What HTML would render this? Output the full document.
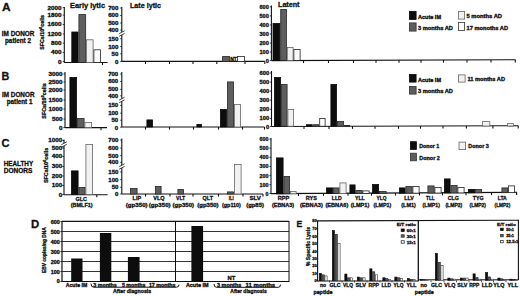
<!DOCTYPE html>
<html><head><meta charset="utf-8"><style>
html,body{margin:0;padding:0;background:#fff;}
svg{display:block;}
svg text{font-family:"Liberation Sans", sans-serif;stroke:#111;stroke-width:0.3px;}
</style></head><body>
<svg width="520" height="296" viewBox="0 0 520 296">
<rect width="520" height="296" fill="#fff"/>
<text x="2" y="10.6" font-size="11" font-weight="bold" fill="#111" textLength="8.6" lengthAdjust="spacingAndGlyphs">A</text>
<text x="1.8" y="36" font-size="6.5" font-weight="bold" fill="#111" textLength="32.6" lengthAdjust="spacingAndGlyphs">IM DONOR</text>
<text x="5" y="42.5" font-size="6.3" font-weight="bold" fill="#111" textLength="26" lengthAdjust="spacingAndGlyphs">patient 2</text>
<text x="44" y="49.7" font-size="4.8" font-weight="bold" fill="#111" textLength="34.7" lengthAdjust="spacingAndGlyphs" transform="rotate(-90 44 49.7)">SFCs/10<tspan font-size="3.6" dy="-2">6</tspan><tspan dy="2">cells</tspan></text>
<line x1="64.3" y1="7" x2="64.3" y2="62.5" stroke="#111" stroke-width="1.1"/>
<line x1="62.699999999999996" y1="7.6" x2="64.3" y2="7.6" stroke="#111" stroke-width="0.8"/>
<line x1="62.699999999999996" y1="15.1" x2="64.3" y2="15.1" stroke="#111" stroke-width="0.8"/>
<line x1="62.699999999999996" y1="24.5" x2="64.3" y2="24.5" stroke="#111" stroke-width="0.8"/>
<line x1="62.699999999999996" y1="33.9" x2="64.3" y2="33.9" stroke="#111" stroke-width="0.8"/>
<line x1="62.699999999999996" y1="43.2" x2="64.3" y2="43.2" stroke="#111" stroke-width="0.8"/>
<line x1="62.699999999999996" y1="52.5" x2="64.3" y2="52.5" stroke="#111" stroke-width="0.8"/>
<line x1="62.699999999999996" y1="61.6" x2="64.3" y2="61.6" stroke="#111" stroke-width="0.8"/>
<text x="61.6" y="9.51" font-size="5.3" font-weight="bold" fill="#111" text-anchor="end" textLength="14.0" lengthAdjust="spacingAndGlyphs">2000</text>
<text x="61.6" y="17.01" font-size="5.3" font-weight="bold" fill="#111" text-anchor="end" textLength="14.0" lengthAdjust="spacingAndGlyphs">1800</text>
<text x="61.6" y="26.41" font-size="5.3" font-weight="bold" fill="#111" text-anchor="end" textLength="14.0" lengthAdjust="spacingAndGlyphs">1600</text>
<text x="61.6" y="35.81" font-size="5.3" font-weight="bold" fill="#111" text-anchor="end" textLength="14.0" lengthAdjust="spacingAndGlyphs">1200</text>
<text x="61.6" y="45.11" font-size="5.3" font-weight="bold" fill="#111" text-anchor="end" textLength="10.5" lengthAdjust="spacingAndGlyphs">800</text>
<text x="61.6" y="54.41" font-size="5.3" font-weight="bold" fill="#111" text-anchor="end" textLength="10.5" lengthAdjust="spacingAndGlyphs">400</text>
<text x="61.6" y="63.51" font-size="5.3" font-weight="bold" fill="#111" text-anchor="end" textLength="3.5" lengthAdjust="spacingAndGlyphs">0</text>
<line x1="64" y1="62.5" x2="107.6" y2="62.5" stroke="#111" stroke-width="1.1"/>
<line x1="102.5" y1="62.5" x2="102.5" y2="65.1" stroke="#111" stroke-width="1.1"/>
<rect x="71.80000000000001" y="32.0" width="6.2999999999999945" height="30.5" fill="#0d0d0d" stroke="#0d0d0d" stroke-width="0.8"/>
<rect x="78.9" y="14.6" width="6.7999999999999945" height="47.9" fill="#5e5e5e" stroke="#2a2a2a" stroke-width="0.8"/>
<rect x="86.5" y="39.8" width="6.600000000000006" height="22.700000000000003" fill="#f1f1f1" stroke="#666" stroke-width="0.8"/>
<rect x="93.9" y="49.8" width="6.499999999999997" height="12.700000000000001" fill="#ffffff" stroke="#222" stroke-width="0.8"/>
<text x="70" y="8.4" font-size="7.4" font-weight="bold" fill="#111" textLength="35" lengthAdjust="spacingAndGlyphs">Early lytic</text>
<line x1="121.8" y1="7" x2="121.8" y2="32" stroke="#111" stroke-width="1.1"/>
<line x1="121.8" y1="35" x2="121.8" y2="61.5" stroke="#111" stroke-width="1.1"/>
<line x1="119.2" y1="33.6" x2="124.6" y2="30.8" stroke="#111" stroke-width="0.8"/>
<line x1="119.2" y1="36.2" x2="124.6" y2="33.4" stroke="#111" stroke-width="0.8"/>
<line x1="120.2" y1="8" x2="121.8" y2="8" stroke="#111" stroke-width="0.8"/>
<line x1="120.2" y1="15.5" x2="121.8" y2="15.5" stroke="#111" stroke-width="0.8"/>
<line x1="120.2" y1="23" x2="121.8" y2="23" stroke="#111" stroke-width="0.8"/>
<line x1="120.2" y1="30" x2="121.8" y2="30" stroke="#111" stroke-width="0.8"/>
<line x1="120.2" y1="38.7" x2="121.8" y2="38.7" stroke="#111" stroke-width="0.8"/>
<line x1="120.2" y1="46.5" x2="121.8" y2="46.5" stroke="#111" stroke-width="0.8"/>
<line x1="120.2" y1="53.8" x2="121.8" y2="53.8" stroke="#111" stroke-width="0.8"/>
<line x1="120.2" y1="61.5" x2="121.8" y2="61.5" stroke="#111" stroke-width="0.8"/>
<text x="118.4" y="9.91" font-size="5.3" font-weight="bold" fill="#111" text-anchor="end" textLength="10.2" lengthAdjust="spacingAndGlyphs">700</text>
<text x="118.4" y="17.41" font-size="5.3" font-weight="bold" fill="#111" text-anchor="end" textLength="10.2" lengthAdjust="spacingAndGlyphs">600</text>
<text x="118.4" y="24.91" font-size="5.3" font-weight="bold" fill="#111" text-anchor="end" textLength="10.2" lengthAdjust="spacingAndGlyphs">500</text>
<text x="118.4" y="31.91" font-size="5.3" font-weight="bold" fill="#111" text-anchor="end" textLength="10.2" lengthAdjust="spacingAndGlyphs">400</text>
<text x="118.4" y="40.61" font-size="5.3" font-weight="bold" fill="#111" text-anchor="end" textLength="10.2" lengthAdjust="spacingAndGlyphs">150</text>
<text x="118.4" y="48.61" font-size="5.3" font-weight="bold" fill="#111" text-anchor="end" textLength="10.2" lengthAdjust="spacingAndGlyphs">100</text>
<text x="118.4" y="55.81" font-size="5.3" font-weight="bold" fill="#111" text-anchor="end" textLength="6.8" lengthAdjust="spacingAndGlyphs">50</text>
<text x="118.4" y="63.81" font-size="5.3" font-weight="bold" fill="#111" text-anchor="end" textLength="3.4" lengthAdjust="spacingAndGlyphs">0</text>
<line x1="121.8" y1="61.4" x2="264.8" y2="61.4" stroke="#111" stroke-width="1.1"/>
<line x1="145.5" y1="61.4" x2="145.5" y2="64.0" stroke="#111" stroke-width="1.1"/>
<line x1="169.5" y1="61.4" x2="169.5" y2="64.0" stroke="#111" stroke-width="1.1"/>
<line x1="193" y1="61.4" x2="193" y2="64.0" stroke="#111" stroke-width="1.1"/>
<line x1="216.8" y1="61.4" x2="216.8" y2="64.0" stroke="#111" stroke-width="1.1"/>
<line x1="245" y1="61.4" x2="245" y2="64.0" stroke="#111" stroke-width="1.1"/>
<line x1="264.8" y1="61.4" x2="264.8" y2="64.0" stroke="#111" stroke-width="1.1"/>
<rect x="222.6" y="56.4" width="6.800000000000023" height="4.999999999999998" fill="#5e5e5e" stroke="#2a2a2a" stroke-width="0.8"/>
<text x="230.3" y="61" font-size="4.6" font-weight="bold" fill="#111" textLength="6.6" lengthAdjust="spacingAndGlyphs">NT</text>
<rect x="237.4" y="56.4" width="7.2" height="4.999999999999998" fill="#ffffff" stroke="#222" stroke-width="0.8"/>
<text x="130" y="7.5" font-size="7.2" font-weight="bold" fill="#111" textLength="31" lengthAdjust="spacingAndGlyphs">Late lytic</text>
<line x1="271.4" y1="5.5" x2="271.4" y2="60.5" stroke="#111" stroke-width="1.1"/>
<line x1="269.79999999999995" y1="6.8" x2="271.4" y2="6.8" stroke="#111" stroke-width="0.8"/>
<line x1="269.79999999999995" y1="15.9" x2="271.4" y2="15.9" stroke="#111" stroke-width="0.8"/>
<line x1="269.79999999999995" y1="25" x2="271.4" y2="25" stroke="#111" stroke-width="0.8"/>
<line x1="269.79999999999995" y1="34" x2="271.4" y2="34" stroke="#111" stroke-width="0.8"/>
<line x1="269.79999999999995" y1="43" x2="271.4" y2="43" stroke="#111" stroke-width="0.8"/>
<line x1="269.79999999999995" y1="52" x2="271.4" y2="52" stroke="#111" stroke-width="0.8"/>
<line x1="269.79999999999995" y1="60.5" x2="271.4" y2="60.5" stroke="#111" stroke-width="0.8"/>
<text x="268.8" y="8.71" font-size="5.3" font-weight="bold" fill="#111" text-anchor="end" textLength="9.3" lengthAdjust="spacingAndGlyphs">600</text>
<text x="268.8" y="17.81" font-size="5.3" font-weight="bold" fill="#111" text-anchor="end" textLength="9.3" lengthAdjust="spacingAndGlyphs">500</text>
<text x="268.8" y="26.91" font-size="5.3" font-weight="bold" fill="#111" text-anchor="end" textLength="9.3" lengthAdjust="spacingAndGlyphs">400</text>
<text x="268.8" y="35.91" font-size="5.3" font-weight="bold" fill="#111" text-anchor="end" textLength="9.3" lengthAdjust="spacingAndGlyphs">300</text>
<text x="268.8" y="44.91" font-size="5.3" font-weight="bold" fill="#111" text-anchor="end" textLength="9.3" lengthAdjust="spacingAndGlyphs">200</text>
<text x="268.8" y="53.91" font-size="5.3" font-weight="bold" fill="#111" text-anchor="end" textLength="9.3" lengthAdjust="spacingAndGlyphs">100</text>
<text x="268.8" y="63.21" font-size="5.3" font-weight="bold" fill="#111" text-anchor="end" textLength="3.1" lengthAdjust="spacingAndGlyphs">0</text>
<line x1="271.4" y1="60.6" x2="515.5" y2="59.8" stroke="#111" stroke-width="1.1"/>
<line x1="303.5" y1="60.49479721425645" x2="303.5" y2="63.09479721425645" stroke="#111" stroke-width="1.1"/>
<line x1="328.5" y1="60.412863580499796" x2="328.5" y2="63.0128635804998" stroke="#111" stroke-width="1.1"/>
<line x1="353.5" y1="60.33092994674314" x2="353.5" y2="62.93092994674314" stroke="#111" stroke-width="1.1"/>
<line x1="376" y1="60.257189676362145" x2="376" y2="62.85718967636215" stroke="#111" stroke-width="1.1"/>
<line x1="399" y1="60.18181073330602" x2="399" y2="62.781810733306024" stroke="#111" stroke-width="1.1"/>
<line x1="421" y1="60.10970913560016" x2="421" y2="62.709709135600164" stroke="#111" stroke-width="1.1"/>
<line x1="443.5" y1="60.03596886521917" x2="443.5" y2="62.63596886521917" stroke="#111" stroke-width="1.1"/>
<line x1="467" y1="59.95895124948791" x2="467" y2="62.55895124948791" stroke="#111" stroke-width="1.1"/>
<line x1="491" y1="59.880294961081525" x2="491" y2="62.480294961081526" stroke="#111" stroke-width="1.1"/>
<line x1="515.3" y1="59.80065546907005" x2="515.3" y2="62.40065546907005" stroke="#111" stroke-width="1.1"/>
<rect x="273.0" y="23.4" width="6.899999999999989" height="37.0" fill="#0d0d0d" stroke="#0d0d0d" stroke-width="0.8"/>
<rect x="280.7" y="9.4" width="5.799999999999966" height="51.0" fill="#5e5e5e" stroke="#2a2a2a" stroke-width="0.8"/>
<rect x="287.29999999999995" y="47.4" width="5.800000000000023" height="12.999999999999998" fill="#f1f1f1" stroke="#666" stroke-width="0.8"/>
<rect x="293.9" y="49.4" width="6.2" height="10.999999999999998" fill="#ffffff" stroke="#222" stroke-width="0.8"/>
<text x="278" y="7" font-size="7.2" font-weight="bold" fill="#111" textLength="21.5" lengthAdjust="spacingAndGlyphs">Latent</text>
<rect x="409.4" y="11.4" width="6.7" height="8.2" fill="#0d0d0d" stroke="#0d0d0d" stroke-width="0.8"/>
<text x="418" y="18.8" font-size="4.8" font-weight="bold" fill="#111" textLength="23" lengthAdjust="spacingAndGlyphs">Acute IM</text>
<rect x="409.4" y="22.9" width="6.7" height="8.2" fill="#5e5e5e" stroke="#333" stroke-width="0.8"/>
<text x="418" y="29.5" font-size="4.8" font-weight="bold" fill="#111" textLength="35" lengthAdjust="spacingAndGlyphs">3 months AD</text>
<rect x="458.4" y="11.4" width="6.2" height="7.7" fill="#f1f1f1" stroke="#666" stroke-width="0.8"/>
<text x="466.5" y="18" font-size="4.8" font-weight="bold" fill="#111" textLength="35.5" lengthAdjust="spacingAndGlyphs">5 months AD</text>
<rect x="458.4" y="22.4" width="6.2" height="8.2" fill="#ffffff" stroke="#333" stroke-width="0.8"/>
<text x="466.5" y="29.5" font-size="4.8" font-weight="bold" fill="#111" textLength="41.5" lengthAdjust="spacingAndGlyphs">17 monoths AD</text>
<text x="1.6" y="79.5" font-size="11" font-weight="bold" fill="#111" textLength="7.8" lengthAdjust="spacingAndGlyphs">B</text>
<text x="2" y="97" font-size="6.5" font-weight="bold" fill="#111" textLength="32.5" lengthAdjust="spacingAndGlyphs">IM DONOR</text>
<text x="6.8" y="103.6" font-size="6.3" font-weight="bold" fill="#111" textLength="25.6" lengthAdjust="spacingAndGlyphs">patient 1</text>
<text x="46.5" y="118.7" font-size="4.8" font-weight="bold" fill="#111" textLength="35.5" lengthAdjust="spacingAndGlyphs" transform="rotate(-90 46.5 118.7)">SFCs/10<tspan font-size="3.6" dy="-2">6</tspan><tspan dy="2">cells</tspan></text>
<line x1="65" y1="72" x2="65" y2="127.5" stroke="#111" stroke-width="1.1"/>
<line x1="63.4" y1="74" x2="65" y2="74" stroke="#111" stroke-width="0.8"/>
<line x1="63.4" y1="82" x2="65" y2="82" stroke="#111" stroke-width="0.8"/>
<line x1="63.4" y1="90" x2="65" y2="90" stroke="#111" stroke-width="0.8"/>
<line x1="63.4" y1="100" x2="65" y2="100" stroke="#111" stroke-width="0.8"/>
<line x1="63.4" y1="109" x2="65" y2="109" stroke="#111" stroke-width="0.8"/>
<line x1="63.4" y1="119" x2="65" y2="119" stroke="#111" stroke-width="0.8"/>
<line x1="63.4" y1="127.5" x2="65" y2="127.5" stroke="#111" stroke-width="0.8"/>
<text x="62.5" y="75.91" font-size="5.3" font-weight="bold" fill="#111" text-anchor="end" textLength="14.0" lengthAdjust="spacingAndGlyphs">3000</text>
<text x="62.5" y="83.91" font-size="5.3" font-weight="bold" fill="#111" text-anchor="end" textLength="14.0" lengthAdjust="spacingAndGlyphs">2500</text>
<text x="62.5" y="91.91" font-size="5.3" font-weight="bold" fill="#111" text-anchor="end" textLength="14.0" lengthAdjust="spacingAndGlyphs">2000</text>
<text x="62.5" y="101.91" font-size="5.3" font-weight="bold" fill="#111" text-anchor="end" textLength="14.0" lengthAdjust="spacingAndGlyphs">1500</text>
<text x="62.5" y="110.91" font-size="5.3" font-weight="bold" fill="#111" text-anchor="end" textLength="14.0" lengthAdjust="spacingAndGlyphs">1000</text>
<text x="62.5" y="120.91" font-size="5.3" font-weight="bold" fill="#111" text-anchor="end" textLength="10.5" lengthAdjust="spacingAndGlyphs">500</text>
<text x="62.5" y="129.71" font-size="5.3" font-weight="bold" fill="#111" text-anchor="end" textLength="3.5" lengthAdjust="spacingAndGlyphs">0</text>
<line x1="65" y1="127.6" x2="107" y2="127.6" stroke="#111" stroke-width="1.1"/>
<line x1="101" y1="127.6" x2="101" y2="130.2" stroke="#111" stroke-width="1.1"/>
<rect x="69.9" y="77.4" width="6.7" height="50.1" fill="#0d0d0d" stroke="#0d0d0d" stroke-width="0.8"/>
<rect x="77.4" y="118.4" width="6.7" height="9.1" fill="#5e5e5e" stroke="#2a2a2a" stroke-width="0.8"/>
<rect x="84.9" y="122.4" width="6.7" height="5.1" fill="#f1f1f1" stroke="#666" stroke-width="0.8"/>
<line x1="121.8" y1="72" x2="121.8" y2="98.5" stroke="#111" stroke-width="1.1"/>
<line x1="121.8" y1="101.5" x2="121.8" y2="127.2" stroke="#111" stroke-width="1.1"/>
<line x1="119.2" y1="100.1" x2="124.6" y2="97.3" stroke="#111" stroke-width="0.8"/>
<line x1="119.2" y1="102.7" x2="124.6" y2="99.9" stroke="#111" stroke-width="0.8"/>
<line x1="120.2" y1="74.1" x2="121.8" y2="74.1" stroke="#111" stroke-width="0.8"/>
<line x1="120.2" y1="81.5" x2="121.8" y2="81.5" stroke="#111" stroke-width="0.8"/>
<line x1="120.2" y1="89.3" x2="121.8" y2="89.3" stroke="#111" stroke-width="0.8"/>
<line x1="120.2" y1="95.8" x2="121.8" y2="95.8" stroke="#111" stroke-width="0.8"/>
<line x1="120.2" y1="105.4" x2="121.8" y2="105.4" stroke="#111" stroke-width="0.8"/>
<line x1="120.2" y1="113.2" x2="121.8" y2="113.2" stroke="#111" stroke-width="0.8"/>
<line x1="120.2" y1="120.2" x2="121.8" y2="120.2" stroke="#111" stroke-width="0.8"/>
<line x1="120.2" y1="127.2" x2="121.8" y2="127.2" stroke="#111" stroke-width="0.8"/>
<text x="118.2" y="76.01" font-size="5.3" font-weight="bold" fill="#111" text-anchor="end" textLength="10.05" lengthAdjust="spacingAndGlyphs">700</text>
<text x="118.2" y="83.41" font-size="5.3" font-weight="bold" fill="#111" text-anchor="end" textLength="10.05" lengthAdjust="spacingAndGlyphs">600</text>
<text x="118.2" y="91.21" font-size="5.3" font-weight="bold" fill="#111" text-anchor="end" textLength="10.05" lengthAdjust="spacingAndGlyphs">500</text>
<text x="118.2" y="97.71" font-size="5.3" font-weight="bold" fill="#111" text-anchor="end" textLength="10.05" lengthAdjust="spacingAndGlyphs">400</text>
<text x="118.2" y="107.31" font-size="5.3" font-weight="bold" fill="#111" text-anchor="end" textLength="10.05" lengthAdjust="spacingAndGlyphs">150</text>
<text x="118.2" y="115.11" font-size="5.3" font-weight="bold" fill="#111" text-anchor="end" textLength="10.05" lengthAdjust="spacingAndGlyphs">100</text>
<text x="118.2" y="122.11" font-size="5.3" font-weight="bold" fill="#111" text-anchor="end" textLength="6.7" lengthAdjust="spacingAndGlyphs">50</text>
<text x="118.2" y="129.71" font-size="5.3" font-weight="bold" fill="#111" text-anchor="end" textLength="3.35" lengthAdjust="spacingAndGlyphs">0</text>
<line x1="121.8" y1="127" x2="264.5" y2="127" stroke="#111" stroke-width="1.1"/>
<line x1="145.5" y1="127.0" x2="145.5" y2="129.6" stroke="#111" stroke-width="1.1"/>
<line x1="169.5" y1="127.0" x2="169.5" y2="129.6" stroke="#111" stroke-width="1.1"/>
<line x1="193.5" y1="127.0" x2="193.5" y2="129.6" stroke="#111" stroke-width="1.1"/>
<line x1="218.5" y1="127.0" x2="218.5" y2="129.6" stroke="#111" stroke-width="1.1"/>
<line x1="242.5" y1="127.0" x2="242.5" y2="129.6" stroke="#111" stroke-width="1.1"/>
<line x1="264.5" y1="127.0" x2="264.5" y2="129.6" stroke="#111" stroke-width="1.1"/>
<rect x="146.9" y="119.9" width="5.7" height="7.1" fill="#0d0d0d" stroke="#0d0d0d" stroke-width="0.8"/>
<rect x="196.9" y="124.4" width="4.7" height="2.6" fill="#0d0d0d" stroke="#0d0d0d" stroke-width="0.8"/>
<rect x="220.4" y="109.4" width="6.2" height="17.6" fill="#0d0d0d" stroke="#0d0d0d" stroke-width="0.8"/>
<rect x="227.4" y="81.9" width="6.2" height="45.1" fill="#5e5e5e" stroke="#2a2a2a" stroke-width="0.8"/>
<rect x="234.4" y="104.4" width="6.2" height="22.6" fill="#f1f1f1" stroke="#666" stroke-width="0.8"/>
<line x1="271.5" y1="71" x2="271.5" y2="126.5" stroke="#111" stroke-width="1.1"/>
<line x1="269.9" y1="73" x2="271.5" y2="73" stroke="#111" stroke-width="0.8"/>
<line x1="269.9" y1="82.1" x2="271.5" y2="82.1" stroke="#111" stroke-width="0.8"/>
<line x1="269.9" y1="91.1" x2="271.5" y2="91.1" stroke="#111" stroke-width="0.8"/>
<line x1="269.9" y1="100.2" x2="271.5" y2="100.2" stroke="#111" stroke-width="0.8"/>
<line x1="269.9" y1="109.3" x2="271.5" y2="109.3" stroke="#111" stroke-width="0.8"/>
<line x1="269.9" y1="118.4" x2="271.5" y2="118.4" stroke="#111" stroke-width="0.8"/>
<line x1="269.9" y1="126.5" x2="271.5" y2="126.5" stroke="#111" stroke-width="0.8"/>
<text x="269.2" y="74.91" font-size="5.3" font-weight="bold" fill="#111" text-anchor="end" textLength="9.6" lengthAdjust="spacingAndGlyphs">600</text>
<text x="269.2" y="84.01" font-size="5.3" font-weight="bold" fill="#111" text-anchor="end" textLength="9.6" lengthAdjust="spacingAndGlyphs">500</text>
<text x="269.2" y="93.01" font-size="5.3" font-weight="bold" fill="#111" text-anchor="end" textLength="9.6" lengthAdjust="spacingAndGlyphs">400</text>
<text x="269.2" y="102.11" font-size="5.3" font-weight="bold" fill="#111" text-anchor="end" textLength="9.6" lengthAdjust="spacingAndGlyphs">300</text>
<text x="269.2" y="111.21" font-size="5.3" font-weight="bold" fill="#111" text-anchor="end" textLength="9.6" lengthAdjust="spacingAndGlyphs">200</text>
<text x="269.2" y="120.31" font-size="5.3" font-weight="bold" fill="#111" text-anchor="end" textLength="9.6" lengthAdjust="spacingAndGlyphs">100</text>
<text x="269.2" y="129.31" font-size="5.3" font-weight="bold" fill="#111" text-anchor="end" textLength="3.2" lengthAdjust="spacingAndGlyphs">0</text>
<line x1="271.5" y1="126.5" x2="518.3" y2="125.8" stroke="#111" stroke-width="1.1"/>
<line x1="304" y1="126.40782009724474" x2="304" y2="129.00782009724475" stroke="#111" stroke-width="1.1"/>
<line x1="329" y1="126.33691247974068" x2="329" y2="128.93691247974067" stroke="#111" stroke-width="1.1"/>
<line x1="352.5" y1="126.27025931928686" x2="352.5" y2="128.87025931928687" stroke="#111" stroke-width="1.1"/>
<line x1="375" y1="126.20644246353322" x2="375" y2="128.80644246353322" stroke="#111" stroke-width="1.1"/>
<line x1="398.5" y1="126.13978930307941" x2="398.5" y2="128.73978930307942" stroke="#111" stroke-width="1.1"/>
<line x1="420.5" y1="126.07739059967585" x2="420.5" y2="128.67739059967585" stroke="#111" stroke-width="1.1"/>
<line x1="443" y1="126.01357374392221" x2="443" y2="128.61357374392222" stroke="#111" stroke-width="1.1"/>
<line x1="466.4" y1="125.9472042139384" x2="466.4" y2="128.54720421393841" stroke="#111" stroke-width="1.1"/>
<line x1="492.9" y1="125.87204213938412" x2="492.9" y2="128.47204213938411" stroke="#111" stroke-width="1.1"/>
<line x1="518.2" y1="125.80028363047002" x2="518.2" y2="128.40028363047003" stroke="#111" stroke-width="1.1"/>
<rect x="274.4" y="77.4" width="6.2" height="48.800000000000004" fill="#0d0d0d" stroke="#0d0d0d" stroke-width="0.8"/>
<rect x="281.4" y="84.4" width="5.7" height="41.800000000000004" fill="#5e5e5e" stroke="#2a2a2a" stroke-width="0.8"/>
<rect x="287.9" y="109.4" width="5.7" height="16.800000000000004" fill="#f1f1f1" stroke="#666" stroke-width="0.8"/>
<rect x="306.4" y="124.7" width="5.7" height="1.5000000000000058" fill="#0d0d0d" stroke="#0d0d0d" stroke-width="0.8"/>
<rect x="312.9" y="124.7" width="5.7" height="1.5000000000000058" fill="#5e5e5e" stroke="#2a2a2a" stroke-width="0.8"/>
<rect x="319.7" y="118.4" width="5.399999999999989" height="7.8000000000000025" fill="#ffffff" stroke="#222" stroke-width="0.8"/>
<rect x="330.9" y="84.4" width="5.7" height="41.800000000000004" fill="#0d0d0d" stroke="#0d0d0d" stroke-width="0.8"/>
<rect x="337.4" y="121.4" width="6.2" height="4.8000000000000025" fill="#5e5e5e" stroke="#2a2a2a" stroke-width="0.8"/>
<rect x="344.4" y="125.4" width="5.2" height="0.8000000000000028" fill="#5e5e5e" stroke="#2a2a2a" stroke-width="0.8"/>
<rect x="482.5" y="121.60000000000001" width="7.299999999999966" height="4.399999999999997" fill="#f1f1f1" stroke="#666" stroke-width="0.8"/>
<rect x="507.5" y="123.60000000000001" width="6.099999999999977" height="2.3999999999999972" fill="#f1f1f1" stroke="#666" stroke-width="0.8"/>
<rect x="409.4" y="74.4" width="6.7" height="7.7" fill="#0d0d0d" stroke="#0d0d0d" stroke-width="0.8"/>
<text x="418" y="81.5" font-size="4.8" font-weight="bold" fill="#111" textLength="23" lengthAdjust="spacingAndGlyphs">Acute IM</text>
<rect x="409.4" y="86.4" width="6.7" height="7.7" fill="#5e5e5e" stroke="#333" stroke-width="0.8"/>
<text x="418" y="93" font-size="4.8" font-weight="bold" fill="#111" textLength="35" lengthAdjust="spacingAndGlyphs">3 months AD</text>
<rect x="458.4" y="74.9" width="6.7" height="7.2" fill="#f1f1f1" stroke="#666" stroke-width="0.8"/>
<text x="467.5" y="81" font-size="4.8" font-weight="bold" fill="#111" textLength="37.5" lengthAdjust="spacingAndGlyphs">11 months AD</text>
<text x="1.6" y="146.8" font-size="11" font-weight="bold" fill="#111" textLength="8" lengthAdjust="spacingAndGlyphs">C</text>
<text x="3.8" y="166" font-size="6.3" font-weight="bold" fill="#111" textLength="29.3" lengthAdjust="spacingAndGlyphs">HEALTHY</text>
<text x="3.8" y="172.5" font-size="6.3" font-weight="bold" fill="#111" textLength="28.6" lengthAdjust="spacingAndGlyphs">DONORS</text>
<text x="48.2" y="183" font-size="4.8" font-weight="bold" fill="#111" textLength="35.2" lengthAdjust="spacingAndGlyphs" transform="rotate(-90 48.2 183)">SFCs/10<tspan font-size="3.6" dy="-2">6</tspan><tspan dy="2">cells</tspan></text>
<line x1="64" y1="139.5" x2="64" y2="143" stroke="#111" stroke-width="1.1"/>
<line x1="64" y1="146" x2="64" y2="194.5" stroke="#111" stroke-width="1.1"/>
<line x1="61.4" y1="144.6" x2="66.8" y2="141.8" stroke="#111" stroke-width="0.8"/>
<line x1="61.4" y1="147.2" x2="66.8" y2="144.4" stroke="#111" stroke-width="0.8"/>
<line x1="62.4" y1="140.5" x2="64" y2="140.5" stroke="#111" stroke-width="0.8"/>
<line x1="62.4" y1="148" x2="64" y2="148" stroke="#111" stroke-width="0.8"/>
<line x1="62.4" y1="156.5" x2="64" y2="156.5" stroke="#111" stroke-width="0.8"/>
<line x1="62.4" y1="166.5" x2="64" y2="166.5" stroke="#111" stroke-width="0.8"/>
<line x1="62.4" y1="176" x2="64" y2="176" stroke="#111" stroke-width="0.8"/>
<line x1="62.4" y1="185.5" x2="64" y2="185.5" stroke="#111" stroke-width="0.8"/>
<line x1="62.4" y1="194.5" x2="64" y2="194.5" stroke="#111" stroke-width="0.8"/>
<text x="62.3" y="142.41" font-size="5.3" font-weight="bold" fill="#111" text-anchor="end" textLength="14.0" lengthAdjust="spacingAndGlyphs">1000</text>
<text x="62.3" y="150.21" font-size="5.3" font-weight="bold" fill="#111" text-anchor="end" textLength="10.5" lengthAdjust="spacingAndGlyphs">500</text>
<text x="62.3" y="158.41" font-size="5.3" font-weight="bold" fill="#111" text-anchor="end" textLength="10.5" lengthAdjust="spacingAndGlyphs">400</text>
<text x="62.3" y="168.41" font-size="5.3" font-weight="bold" fill="#111" text-anchor="end" textLength="10.5" lengthAdjust="spacingAndGlyphs">300</text>
<text x="62.3" y="177.91" font-size="5.3" font-weight="bold" fill="#111" text-anchor="end" textLength="10.5" lengthAdjust="spacingAndGlyphs">200</text>
<text x="62.3" y="187.41" font-size="5.3" font-weight="bold" fill="#111" text-anchor="end" textLength="10.5" lengthAdjust="spacingAndGlyphs">100</text>
<text x="62.3" y="196.71" font-size="5.3" font-weight="bold" fill="#111" text-anchor="end" textLength="3.5" lengthAdjust="spacingAndGlyphs">0</text>
<line x1="64" y1="194.7" x2="107.6" y2="194.7" stroke="#111" stroke-width="1.1"/>
<line x1="96.8" y1="194.7" x2="96.8" y2="197.29999999999998" stroke="#111" stroke-width="1.1"/>
<rect x="71.4" y="170.9" width="6.7" height="23.6" fill="#0d0d0d" stroke="#0d0d0d" stroke-width="0.8"/>
<rect x="78.9" y="187.4" width="6.2" height="7.1" fill="#5e5e5e" stroke="#2a2a2a" stroke-width="0.8"/>
<rect x="85.9" y="144.4" width="6.7" height="50.1" fill="#f1f1f1" stroke="#666" stroke-width="0.8"/>
<line x1="121.8" y1="138.5" x2="121.8" y2="165" stroke="#111" stroke-width="1.1"/>
<line x1="121.8" y1="168" x2="121.8" y2="194" stroke="#111" stroke-width="1.1"/>
<line x1="119.2" y1="166.6" x2="124.6" y2="163.8" stroke="#111" stroke-width="0.8"/>
<line x1="119.2" y1="169.2" x2="124.6" y2="166.4" stroke="#111" stroke-width="0.8"/>
<line x1="120.2" y1="140.1" x2="121.8" y2="140.1" stroke="#111" stroke-width="0.8"/>
<line x1="120.2" y1="148.1" x2="121.8" y2="148.1" stroke="#111" stroke-width="0.8"/>
<line x1="120.2" y1="155.7" x2="121.8" y2="155.7" stroke="#111" stroke-width="0.8"/>
<line x1="120.2" y1="162.3" x2="121.8" y2="162.3" stroke="#111" stroke-width="0.8"/>
<line x1="120.2" y1="172" x2="121.8" y2="172" stroke="#111" stroke-width="0.8"/>
<line x1="120.2" y1="179.7" x2="121.8" y2="179.7" stroke="#111" stroke-width="0.8"/>
<line x1="120.2" y1="187.3" x2="121.8" y2="187.3" stroke="#111" stroke-width="0.8"/>
<line x1="120.2" y1="194" x2="121.8" y2="194" stroke="#111" stroke-width="0.8"/>
<text x="118.4" y="142.01" font-size="5.3" font-weight="bold" fill="#111" text-anchor="end" textLength="10.05" lengthAdjust="spacingAndGlyphs">700</text>
<text x="118.4" y="150.01" font-size="5.3" font-weight="bold" fill="#111" text-anchor="end" textLength="10.05" lengthAdjust="spacingAndGlyphs">600</text>
<text x="118.4" y="157.61" font-size="5.3" font-weight="bold" fill="#111" text-anchor="end" textLength="10.05" lengthAdjust="spacingAndGlyphs">500</text>
<text x="118.4" y="164.21" font-size="5.3" font-weight="bold" fill="#111" text-anchor="end" textLength="10.05" lengthAdjust="spacingAndGlyphs">400</text>
<text x="118.4" y="173.91" font-size="5.3" font-weight="bold" fill="#111" text-anchor="end" textLength="10.05" lengthAdjust="spacingAndGlyphs">150</text>
<text x="118.4" y="181.61" font-size="5.3" font-weight="bold" fill="#111" text-anchor="end" textLength="10.05" lengthAdjust="spacingAndGlyphs">100</text>
<text x="118.4" y="189.21" font-size="5.3" font-weight="bold" fill="#111" text-anchor="end" textLength="6.7" lengthAdjust="spacingAndGlyphs">50</text>
<text x="118.4" y="196.31" font-size="5.3" font-weight="bold" fill="#111" text-anchor="end" textLength="3.35" lengthAdjust="spacingAndGlyphs">0</text>
<line x1="121.8" y1="194" x2="263" y2="194" stroke="#111" stroke-width="1.1"/>
<line x1="145.5" y1="194.0" x2="145.5" y2="196.6" stroke="#111" stroke-width="1.1"/>
<line x1="170" y1="194.0" x2="170" y2="196.6" stroke="#111" stroke-width="1.1"/>
<line x1="193" y1="194.0" x2="193" y2="196.6" stroke="#111" stroke-width="1.1"/>
<line x1="218.5" y1="194.0" x2="218.5" y2="196.6" stroke="#111" stroke-width="1.1"/>
<line x1="243" y1="194.0" x2="243" y2="196.6" stroke="#111" stroke-width="1.1"/>
<line x1="263" y1="194.0" x2="263" y2="196.6" stroke="#111" stroke-width="1.1"/>
<rect x="130.4" y="188.4" width="6.7" height="5.6" fill="#5e5e5e" stroke="#2a2a2a" stroke-width="0.8"/>
<rect x="155.4" y="186.4" width="5.7" height="7.6" fill="#5e5e5e" stroke="#2a2a2a" stroke-width="0.8"/>
<rect x="177.9" y="189.4" width="5.7" height="4.6" fill="#5e5e5e" stroke="#2a2a2a" stroke-width="0.8"/>
<rect x="227.4" y="191.9" width="6.2" height="2.1" fill="#5e5e5e" stroke="#2a2a2a" stroke-width="0.8"/>
<rect x="234.4" y="164.4" width="6.7" height="29.6" fill="#f1f1f1" stroke="#666" stroke-width="0.8"/>
<line x1="271" y1="138" x2="271" y2="193.5" stroke="#111" stroke-width="1.1"/>
<line x1="269.4" y1="139.1" x2="271" y2="139.1" stroke="#111" stroke-width="0.8"/>
<line x1="269.4" y1="148.2" x2="271" y2="148.2" stroke="#111" stroke-width="0.8"/>
<line x1="269.4" y1="157.3" x2="271" y2="157.3" stroke="#111" stroke-width="0.8"/>
<line x1="269.4" y1="166.5" x2="271" y2="166.5" stroke="#111" stroke-width="0.8"/>
<line x1="269.4" y1="175.6" x2="271" y2="175.6" stroke="#111" stroke-width="0.8"/>
<line x1="269.4" y1="184.7" x2="271" y2="184.7" stroke="#111" stroke-width="0.8"/>
<line x1="269.4" y1="193.5" x2="271" y2="193.5" stroke="#111" stroke-width="0.8"/>
<text x="268.4" y="141.01" font-size="5.3" font-weight="bold" fill="#111" text-anchor="end" textLength="8.85" lengthAdjust="spacingAndGlyphs">600</text>
<text x="268.4" y="150.11" font-size="5.3" font-weight="bold" fill="#111" text-anchor="end" textLength="8.85" lengthAdjust="spacingAndGlyphs">500</text>
<text x="268.4" y="159.21" font-size="5.3" font-weight="bold" fill="#111" text-anchor="end" textLength="8.85" lengthAdjust="spacingAndGlyphs">400</text>
<text x="268.4" y="168.41" font-size="5.3" font-weight="bold" fill="#111" text-anchor="end" textLength="8.85" lengthAdjust="spacingAndGlyphs">300</text>
<text x="268.4" y="177.51" font-size="5.3" font-weight="bold" fill="#111" text-anchor="end" textLength="8.85" lengthAdjust="spacingAndGlyphs">200</text>
<text x="268.4" y="186.61" font-size="5.3" font-weight="bold" fill="#111" text-anchor="end" textLength="8.85" lengthAdjust="spacingAndGlyphs">100</text>
<text x="268.4" y="195.71" font-size="5.3" font-weight="bold" fill="#111" text-anchor="end" textLength="2.95" lengthAdjust="spacingAndGlyphs">0</text>
<line x1="271" y1="193.6" x2="517" y2="192.3" stroke="#111" stroke-width="1.1"/>
<line x1="298.5" y1="193.45467479674795" x2="298.5" y2="196.05467479674795" stroke="#111" stroke-width="1.1"/>
<line x1="323.5" y1="193.32256097560975" x2="323.5" y2="195.92256097560974" stroke="#111" stroke-width="1.1"/>
<line x1="348" y1="193.1930894308943" x2="348" y2="195.7930894308943" stroke="#111" stroke-width="1.1"/>
<line x1="371.5" y1="193.06890243902438" x2="371.5" y2="195.66890243902438" stroke="#111" stroke-width="1.1"/>
<line x1="395.5" y1="192.9420731707317" x2="395.5" y2="195.5420731707317" stroke="#111" stroke-width="1.1"/>
<line x1="419.5" y1="192.81524390243902" x2="419.5" y2="195.41524390243902" stroke="#111" stroke-width="1.1"/>
<line x1="442.5" y1="192.69369918699186" x2="442.5" y2="195.29369918699186" stroke="#111" stroke-width="1.1"/>
<line x1="466" y1="192.56951219512194" x2="466" y2="195.16951219512194" stroke="#111" stroke-width="1.1"/>
<line x1="491.5" y1="192.43475609756098" x2="491.5" y2="195.03475609756097" stroke="#111" stroke-width="1.1"/>
<line x1="516.6" y1="192.30211382113822" x2="516.6" y2="194.90211382113822" stroke="#111" stroke-width="1.1"/>
<rect x="276.4" y="157.9" width="6.7" height="35.97357723577236" fill="#0d0d0d" stroke="#0d0d0d" stroke-width="0.8"/>
<rect x="283.9" y="176.4" width="5.7" height="17.433943089430905" fill="#5e5e5e" stroke="#2a2a2a" stroke-width="0.8"/>
<rect x="290.4" y="191.4" width="5.7" height="2.399593495934971" fill="#f1f1f1" stroke="#666" stroke-width="0.8"/>
<rect x="326.4" y="187.9" width="6.2" height="5.709349593495949" fill="#0d0d0d" stroke="#0d0d0d" stroke-width="0.8"/>
<rect x="333.4" y="187.9" width="5.7" height="5.672357723577255" fill="#5e5e5e" stroke="#2a2a2a" stroke-width="0.8"/>
<rect x="339.9" y="182.9" width="6.2" height="10.638008130081294" fill="#f1f1f1" stroke="#666" stroke-width="0.8"/>
<rect x="349.9" y="184.9" width="5.2" height="8.58516260162603" fill="#0d0d0d" stroke="#0d0d0d" stroke-width="0.8"/>
<rect x="355.9" y="190.4" width="6.2" height="3.0534552845528595" fill="#5e5e5e" stroke="#2a2a2a" stroke-width="0.8"/>
<rect x="362.9" y="190.9" width="6.2" height="2.5164634146341656" fill="#ffffff" stroke="#222" stroke-width="0.8"/>
<rect x="372.4" y="184.4" width="6.2" height="8.966260162601634" fill="#0d0d0d" stroke="#0d0d0d" stroke-width="0.8"/>
<rect x="379.4" y="191.4" width="6.7" height="1.92926829268294" fill="#5e5e5e" stroke="#2a2a2a" stroke-width="0.8"/>
<rect x="399.4" y="187.9" width="5.7" height="5.323577235772353" fill="#0d0d0d" stroke="#0d0d0d" stroke-width="0.8"/>
<rect x="405.9" y="186.4" width="6.2" height="6.789227642276421" fill="#5e5e5e" stroke="#2a2a2a" stroke-width="0.8"/>
<rect x="412.9" y="186.4" width="6.2" height="6.752235772357727" fill="#ffffff" stroke="#222" stroke-width="0.8"/>
<rect x="427.9" y="185.9" width="6.2" height="7.172967479674815" fill="#5e5e5e" stroke="#2a2a2a" stroke-width="0.8"/>
<rect x="434.9" y="187.4" width="6.2" height="5.635975609756093" fill="#ffffff" stroke="#222" stroke-width="0.8"/>
<rect x="444.4" y="178.9" width="5.7" height="14.08577235772359" fill="#0d0d0d" stroke="#0d0d0d" stroke-width="0.8"/>
<rect x="450.9" y="185.4" width="6.2" height="7.551422764227658" fill="#5e5e5e" stroke="#2a2a2a" stroke-width="0.8"/>
<rect x="457.9" y="187.4" width="6.2" height="5.514430894308935" fill="#ffffff" stroke="#222" stroke-width="0.8"/>
<rect x="468.4" y="189.4" width="6.2" height="3.458943089430909" fill="#0d0d0d" stroke="#0d0d0d" stroke-width="0.8"/>
<rect x="475.4" y="189.4" width="6.2" height="3.421951219512215" fill="#5e5e5e" stroke="#2a2a2a" stroke-width="0.8"/>
<rect x="501.9" y="187.9" width="5.7" height="4.781910569105696" fill="#5e5e5e" stroke="#2a2a2a" stroke-width="0.8"/>
<rect x="508.4" y="185.9" width="6.2" height="6.747560975609764" fill="#ffffff" stroke="#222" stroke-width="0.8"/>
<rect x="410.4" y="141.70000000000002" width="6.0000000000000115" height="7.7" fill="#0d0d0d" stroke="#0d0d0d" stroke-width="0.8"/>
<text x="419.3" y="147.9" font-size="4.8" font-weight="bold" fill="#111" textLength="20" lengthAdjust="spacingAndGlyphs">Donor 1</text>
<rect x="410.4" y="153.20000000000002" width="6.0000000000000115" height="7.599999999999977" fill="#5e5e5e" stroke="#333" stroke-width="0.8"/>
<text x="419.3" y="159.5" font-size="4.8" font-weight="bold" fill="#111" textLength="20.5" lengthAdjust="spacingAndGlyphs">Donor 2</text>
<rect x="459.0" y="142.1" width="6.599999999999977" height="7.5000000000000115" fill="#f1f1f1" stroke="#666" stroke-width="0.8"/>
<text x="468.3" y="147.9" font-size="4.8" font-weight="bold" fill="#111" textLength="20.5" lengthAdjust="spacingAndGlyphs">Donor 3</text>
<text x="75.6" y="201.4" font-size="5.3" font-weight="bold" fill="#111" textLength="11.4" lengthAdjust="spacingAndGlyphs">GLC</text>
<text x="70.8" y="207.4" font-size="5.3" font-weight="bold" fill="#111" textLength="21.8" lengthAdjust="spacingAndGlyphs">(BMLF1)</text>
<text x="132.6" y="200.4" font-size="5.3" font-weight="bold" fill="#111" textLength="8.5" lengthAdjust="spacingAndGlyphs">LIP</text>
<text x="125.8" y="206.6" font-size="5.3" font-weight="bold" fill="#111" textLength="21.8" lengthAdjust="spacingAndGlyphs">(gp350)</text>
<text x="153.2" y="200.4" font-size="5.3" font-weight="bold" fill="#111" textLength="11.4" lengthAdjust="spacingAndGlyphs">VLQ</text>
<text x="148.8" y="206.6" font-size="5.3" font-weight="bold" fill="#111" textLength="21.8" lengthAdjust="spacingAndGlyphs">(gp350)</text>
<text x="176" y="200.4" font-size="5.3" font-weight="bold" fill="#111" textLength="9.2" lengthAdjust="spacingAndGlyphs">VLT</text>
<text x="172.6" y="206.6" font-size="5.3" font-weight="bold" fill="#111" textLength="21.4" lengthAdjust="spacingAndGlyphs">(gp350)</text>
<text x="202.6" y="200.4" font-size="5.3" font-weight="bold" fill="#111" textLength="10.4" lengthAdjust="spacingAndGlyphs">QLT</text>
<text x="197.3" y="206.6" font-size="5.3" font-weight="bold" fill="#111" textLength="21.3" lengthAdjust="spacingAndGlyphs">(gp350)</text>
<text x="228.8" y="200.4" font-size="5.3" font-weight="bold" fill="#111" textLength="4.8" lengthAdjust="spacingAndGlyphs">ILI</text>
<text x="222" y="206.6" font-size="5.3" font-weight="bold" fill="#111" textLength="18.9" lengthAdjust="spacingAndGlyphs">(gp110)</text>
<text x="249.4" y="200.4" font-size="5.3" font-weight="bold" fill="#111" textLength="11.4" lengthAdjust="spacingAndGlyphs">SLV</text>
<text x="246.2" y="206.6" font-size="5.3" font-weight="bold" fill="#111" textLength="17.7" lengthAdjust="spacingAndGlyphs">(gp85)</text>
<text x="277.7" y="200.4" font-size="5.3" font-weight="bold" fill="#111" textLength="11.6" lengthAdjust="spacingAndGlyphs">RPP</text>
<text x="271.9" y="206.6" font-size="5.3" font-weight="bold" fill="#111" textLength="22.3" lengthAdjust="spacingAndGlyphs">(EBNA3)</text>
<text x="305.8" y="200.4" font-size="5.3" font-weight="bold" fill="#111" textLength="11.1" lengthAdjust="spacingAndGlyphs">RYS</text>
<text x="299.9" y="206.6" font-size="5.3" font-weight="bold" fill="#111" textLength="22.9" lengthAdjust="spacingAndGlyphs">(EBNA3)</text>
<text x="331.8" y="200.4" font-size="5.3" font-weight="bold" fill="#111" textLength="10.0" lengthAdjust="spacingAndGlyphs">LLD</text>
<text x="325.4" y="206.6" font-size="5.3" font-weight="bold" fill="#111" textLength="22.9" lengthAdjust="spacingAndGlyphs">(EBNA6)</text>
<text x="355" y="200.4" font-size="5.3" font-weight="bold" fill="#111" textLength="9.8" lengthAdjust="spacingAndGlyphs">YLL</text>
<text x="350.7" y="206.6" font-size="5.3" font-weight="bold" fill="#111" textLength="18.6" lengthAdjust="spacingAndGlyphs">(LMP1)</text>
<text x="376.6" y="200.4" font-size="5.3" font-weight="bold" fill="#111" textLength="9.9" lengthAdjust="spacingAndGlyphs">YLQ</text>
<text x="373.4" y="206.6" font-size="5.3" font-weight="bold" fill="#111" textLength="17.8" lengthAdjust="spacingAndGlyphs">(LMP1)</text>
<text x="404.2" y="200.4" font-size="5.3" font-weight="bold" fill="#111" textLength="9.7" lengthAdjust="spacingAndGlyphs">LLV</text>
<text x="401.3" y="206.6" font-size="5.3" font-weight="bold" fill="#111" textLength="14.5" lengthAdjust="spacingAndGlyphs">(LM1)</text>
<text x="426" y="200.4" font-size="5.3" font-weight="bold" fill="#111" textLength="8.7" lengthAdjust="spacingAndGlyphs">TLL</text>
<text x="422.6" y="206.6" font-size="5.3" font-weight="bold" fill="#111" textLength="17.4" lengthAdjust="spacingAndGlyphs">(LMP1)</text>
<text x="447.8" y="200.4" font-size="5.3" font-weight="bold" fill="#111" textLength="11.1" lengthAdjust="spacingAndGlyphs">CLG</text>
<text x="445.4" y="206.6" font-size="5.3" font-weight="bold" fill="#111" textLength="16.9" lengthAdjust="spacingAndGlyphs">(LMP2)</text>
<text x="472.8" y="200.4" font-size="5.3" font-weight="bold" fill="#111" textLength="10.9" lengthAdjust="spacingAndGlyphs">TYG</text>
<text x="469.6" y="206.6" font-size="5.3" font-weight="bold" fill="#111" textLength="16.4" lengthAdjust="spacingAndGlyphs">(LMP2)</text>
<text x="497.7" y="200.4" font-size="5.3" font-weight="bold" fill="#111" textLength="9.0" lengthAdjust="spacingAndGlyphs">LTA</text>
<text x="494.6" y="206.6" font-size="5.3" font-weight="bold" fill="#111" textLength="15.7" lengthAdjust="spacingAndGlyphs">(LMP2)</text>
<text x="31" y="228" font-size="11" font-weight="bold" fill="#111" textLength="8.2" lengthAdjust="spacingAndGlyphs">D</text>
<text x="45.7" y="273.1" font-size="4.9" font-weight="bold" fill="#111" textLength="46" lengthAdjust="spacingAndGlyphs" transform="rotate(-90 45.7 273.1)">EBV copies/ng DNA</text>
<text x="59.8" y="223.53" font-size="4.8" font-weight="bold" fill="#111" text-anchor="end" textLength="9.0" lengthAdjust="spacingAndGlyphs">600</text>
<text x="59.8" y="233.53" font-size="4.8" font-weight="bold" fill="#111" text-anchor="end" textLength="9.0" lengthAdjust="spacingAndGlyphs">500</text>
<text x="59.8" y="243.53" font-size="4.8" font-weight="bold" fill="#111" text-anchor="end" textLength="9.0" lengthAdjust="spacingAndGlyphs">400</text>
<text x="59.8" y="253.53" font-size="4.8" font-weight="bold" fill="#111" text-anchor="end" textLength="9.0" lengthAdjust="spacingAndGlyphs">300</text>
<text x="59.8" y="263.53" font-size="4.8" font-weight="bold" fill="#111" text-anchor="end" textLength="9.0" lengthAdjust="spacingAndGlyphs">200</text>
<text x="59.8" y="273.53" font-size="4.8" font-weight="bold" fill="#111" text-anchor="end" textLength="9.0" lengthAdjust="spacingAndGlyphs">100</text>
<text x="59.8" y="283.23" font-size="4.8" font-weight="bold" fill="#111" text-anchor="end" textLength="3.0" lengthAdjust="spacingAndGlyphs">0</text>
<line x1="62" y1="221.3" x2="289" y2="221.3" stroke="#111" stroke-width="1.2"/>
<line x1="62" y1="231.5" x2="289" y2="231.5" stroke="#333" stroke-width="1.0"/>
<line x1="62" y1="241.5" x2="289" y2="241.5" stroke="#333" stroke-width="1.0"/>
<line x1="62" y1="251.5" x2="289" y2="251.5" stroke="#333" stroke-width="1.0"/>
<line x1="62" y1="261.5" x2="289" y2="261.5" stroke="#333" stroke-width="1.0"/>
<line x1="62" y1="271.5" x2="289" y2="271.5" stroke="#333" stroke-width="1.0"/>
<line x1="62" y1="281.5" x2="289" y2="281.5" stroke="#111" stroke-width="1.2"/>
<line x1="62" y1="221" x2="62" y2="282" stroke="#111" stroke-width="1.2"/>
<line x1="289" y1="221" x2="289" y2="282" stroke="#111" stroke-width="1.0"/>
<line x1="175.5" y1="221.5" x2="175.5" y2="282" stroke="#111" stroke-width="1.0"/>
<line x1="60.4" y1="221.5" x2="62" y2="221.5" stroke="#111" stroke-width="0.8"/>
<line x1="60.4" y1="231.5" x2="62" y2="231.5" stroke="#111" stroke-width="0.8"/>
<line x1="60.4" y1="241.5" x2="62" y2="241.5" stroke="#111" stroke-width="0.8"/>
<line x1="60.4" y1="251.5" x2="62" y2="251.5" stroke="#111" stroke-width="0.8"/>
<line x1="60.4" y1="261.5" x2="62" y2="261.5" stroke="#111" stroke-width="0.8"/>
<line x1="60.4" y1="271.5" x2="62" y2="271.5" stroke="#111" stroke-width="0.8"/>
<line x1="60.4" y1="281.5" x2="62" y2="281.5" stroke="#111" stroke-width="0.8"/>
<rect x="71.2" y="258.5" width="11.299999999999997" height="23.0" fill="#0d0d0d"/>
<rect x="99.9" y="233" width="11.399999999999991" height="48.5" fill="#0d0d0d"/>
<rect x="127.9" y="257" width="11.699999999999989" height="24.5" fill="#0d0d0d"/>
<rect x="191.4" y="226" width="11.699999999999989" height="55.5" fill="#0d0d0d"/>
<text x="65.8" y="287" font-size="5" font-weight="bold" fill="#111" textLength="21.4" lengthAdjust="spacingAndGlyphs">Acute IM</text>
<text x="93.3" y="286.6" font-size="4.8" font-weight="bold" fill="#111" textLength="23.5" lengthAdjust="spacingAndGlyphs">3 months</text>
<text x="121.9" y="286.6" font-size="4.8" font-weight="bold" fill="#111" textLength="23.5" lengthAdjust="spacingAndGlyphs">5 months</text>
<text x="148.9" y="286.6" font-size="4.8" font-weight="bold" fill="#111" textLength="26.6" lengthAdjust="spacingAndGlyphs">17 months</text>
<path d="M91,283.6 Q91,287.2 93.5,287.2 H176.5 Q179,287.2 179,284.6" fill="none" stroke="#111" stroke-width="1"/>
<text x="113.1" y="292.6" font-size="5.2" font-weight="bold" fill="#111" textLength="38.1" lengthAdjust="spacingAndGlyphs">After diagnosis</text>
<text x="185.9" y="287.2" font-size="5" font-weight="bold" fill="#111" textLength="22.7" lengthAdjust="spacingAndGlyphs">Acute IM</text>
<text x="227.6" y="280.2" font-size="5.2" font-weight="bold" fill="#111" textLength="7.8" lengthAdjust="spacingAndGlyphs">NT</text>
<text x="217" y="286.6" font-size="4.8" font-weight="bold" fill="#111" textLength="24.3" lengthAdjust="spacingAndGlyphs">3 months</text>
<text x="245.6" y="286.6" font-size="4.8" font-weight="bold" fill="#111" textLength="29.6" lengthAdjust="spacingAndGlyphs">11 months</text>
<path d="M214,284 Q214,287.3 216.5,287.3 H278.5 Q280.5,287.3 280.5,284.6" fill="none" stroke="#111" stroke-width="1"/>
<text x="230.3" y="292.8" font-size="5.2" font-weight="bold" fill="#111" textLength="36.4" lengthAdjust="spacingAndGlyphs">After diagnosis</text>
<text x="296.6" y="227.4" font-size="9.5" font-weight="bold" fill="#111" textLength="5.8" lengthAdjust="spacingAndGlyphs">E</text>
<text x="310.3" y="266" font-size="5.0" font-weight="bold" fill="#111" textLength="39" lengthAdjust="spacingAndGlyphs" transform="rotate(-90 310.3 266)">% Specific Lysis</text>
<text x="316.6" y="222.18" font-size="4.4" font-weight="bold" fill="#111" text-anchor="end" textLength="4.3" lengthAdjust="spacingAndGlyphs">80</text>
<text x="316.6" y="229.98" font-size="4.4" font-weight="bold" fill="#111" text-anchor="end" textLength="4.3" lengthAdjust="spacingAndGlyphs">70</text>
<text x="316.6" y="237.78" font-size="4.4" font-weight="bold" fill="#111" text-anchor="end" textLength="4.3" lengthAdjust="spacingAndGlyphs">60</text>
<text x="316.6" y="245.28" font-size="4.4" font-weight="bold" fill="#111" text-anchor="end" textLength="4.3" lengthAdjust="spacingAndGlyphs">50</text>
<text x="316.6" y="252.68" font-size="4.4" font-weight="bold" fill="#111" text-anchor="end" textLength="4.3" lengthAdjust="spacingAndGlyphs">40</text>
<text x="316.6" y="260.08" font-size="4.4" font-weight="bold" fill="#111" text-anchor="end" textLength="4.3" lengthAdjust="spacingAndGlyphs">30</text>
<text x="316.6" y="267.38" font-size="4.4" font-weight="bold" fill="#111" text-anchor="end" textLength="4.3" lengthAdjust="spacingAndGlyphs">20</text>
<text x="316.6" y="274.78" font-size="4.4" font-weight="bold" fill="#111" text-anchor="end" textLength="4.3" lengthAdjust="spacingAndGlyphs">10</text>
<text x="316.6" y="282.18" font-size="4.4" font-weight="bold" fill="#111" text-anchor="end" textLength="2.15" lengthAdjust="spacingAndGlyphs">0</text>
<line x1="317.6" y1="220.9" x2="518.4" y2="220.2" stroke="#111" stroke-width="1.1"/>
<line x1="317.6" y1="220.4" x2="317.6" y2="281.5" stroke="#111" stroke-width="1.1"/>
<line x1="418.3" y1="220.4" x2="418.3" y2="281.2" stroke="#111" stroke-width="1.3"/>
<line x1="518.4" y1="219.7" x2="518.4" y2="280" stroke="#111" stroke-width="1.1"/>
<line x1="317.6" y1="281" x2="418.1" y2="281" stroke="#111" stroke-width="1.0"/>
<line x1="418.1" y1="279.8" x2="518.4" y2="279.8" stroke="#111" stroke-width="1.0"/>
<line x1="316.2" y1="220.5" x2="317.5" y2="220.5" stroke="#111" stroke-width="0.7"/>
<line x1="316.2" y1="228.5" x2="317.5" y2="228.5" stroke="#111" stroke-width="0.7"/>
<line x1="316.2" y1="236.5" x2="317.5" y2="236.5" stroke="#111" stroke-width="0.7"/>
<line x1="316.2" y1="244" x2="317.5" y2="244" stroke="#111" stroke-width="0.7"/>
<line x1="316.2" y1="251.5" x2="317.5" y2="251.5" stroke="#111" stroke-width="0.7"/>
<line x1="316.2" y1="259" x2="317.5" y2="259" stroke="#111" stroke-width="0.7"/>
<line x1="316.2" y1="266.5" x2="317.5" y2="266.5" stroke="#111" stroke-width="0.7"/>
<line x1="316.2" y1="273.5" x2="317.5" y2="273.5" stroke="#111" stroke-width="0.7"/>
<line x1="316.2" y1="280.5" x2="317.5" y2="280.5" stroke="#111" stroke-width="0.7"/>
<rect x="319.3" y="273.3" width="2.1999999999999997" height="7.5" fill="#0d0d0d" stroke="#0d0d0d" stroke-width="0.6"/>
<rect x="322.1" y="274.8" width="2.1999999999999997" height="6.0" fill="#555" stroke="#222" stroke-width="0.6"/>
<rect x="324.90000000000003" y="275.925" width="2.1999999999999997" height="4.875" fill="#fff" stroke="#333" stroke-width="0.6"/>
<rect x="332.3" y="230.55" width="2.1999999999999997" height="50.25" fill="#0d0d0d" stroke="#0d0d0d" stroke-width="0.6"/>
<rect x="335.1" y="234.3" width="2.1999999999999997" height="46.5" fill="#555" stroke="#222" stroke-width="0.6"/>
<rect x="337.90000000000003" y="243.3" width="2.1999999999999997" height="37.5" fill="#fff" stroke="#333" stroke-width="0.6"/>
<rect x="344.8" y="274.05" width="2.1999999999999997" height="6.75" fill="#0d0d0d" stroke="#0d0d0d" stroke-width="0.6"/>
<rect x="347.6" y="277.8" width="2.1999999999999997" height="3.0" fill="#555" stroke="#222" stroke-width="0.6"/>
<rect x="350.40000000000003" y="277.8" width="2.1999999999999997" height="3.0" fill="#fff" stroke="#333" stroke-width="0.6"/>
<rect x="357.3" y="277.05" width="2.1999999999999997" height="3.75" fill="#0d0d0d" stroke="#0d0d0d" stroke-width="0.6"/>
<rect x="360.1" y="277.8" width="2.1999999999999997" height="3.0" fill="#555" stroke="#222" stroke-width="0.6"/>
<rect x="362.90000000000003" y="277.8" width="2.1999999999999997" height="3.0" fill="#fff" stroke="#333" stroke-width="0.6"/>
<rect x="369.8" y="268.8" width="2.1999999999999997" height="12.0" fill="#0d0d0d" stroke="#0d0d0d" stroke-width="0.6"/>
<rect x="372.6" y="271.8" width="2.1999999999999997" height="9.0" fill="#555" stroke="#222" stroke-width="0.6"/>
<rect x="375.40000000000003" y="274.8" width="2.1999999999999997" height="6.0" fill="#fff" stroke="#333" stroke-width="0.6"/>
<rect x="382.8" y="277.8" width="2.1999999999999997" height="3.0" fill="#0d0d0d" stroke="#0d0d0d" stroke-width="0.6"/>
<rect x="385.6" y="278.55" width="2.1999999999999997" height="2.25" fill="#555" stroke="#222" stroke-width="0.6"/>
<rect x="388.40000000000003" y="279.3" width="2.1999999999999997" height="1.5" fill="#fff" stroke="#333" stroke-width="0.6"/>
<rect x="394.8" y="277.05" width="2.1999999999999997" height="3.75" fill="#0d0d0d" stroke="#0d0d0d" stroke-width="0.6"/>
<rect x="397.6" y="277.8" width="2.1999999999999997" height="3.0" fill="#555" stroke="#222" stroke-width="0.6"/>
<rect x="400.40000000000003" y="278.55" width="2.1999999999999997" height="2.25" fill="#fff" stroke="#333" stroke-width="0.6"/>
<rect x="407.3" y="278.55" width="2.1999999999999997" height="2.25" fill="#0d0d0d" stroke="#0d0d0d" stroke-width="0.6"/>
<rect x="410.1" y="279.3" width="2.1999999999999997" height="1.5" fill="#555" stroke="#222" stroke-width="0.6"/>
<rect x="412.90000000000003" y="279.675" width="2.1999999999999997" height="1.125" fill="#fff" stroke="#333" stroke-width="0.6"/>
<rect x="420.3" y="279.55" width="2.1999999999999997" height="0.75" fill="#0d0d0d" stroke="#0d0d0d" stroke-width="0.6"/>
<rect x="423.1" y="279.55" width="2.1999999999999997" height="0.75" fill="#555" stroke="#222" stroke-width="0.6"/>
<rect x="425.90000000000003" y="279.55" width="2.1999999999999997" height="0.75" fill="#fff" stroke="#333" stroke-width="0.6"/>
<rect x="435.3" y="253.3" width="2.1999999999999997" height="27.0" fill="#0d0d0d" stroke="#0d0d0d" stroke-width="0.6"/>
<rect x="438.1" y="262.3" width="2.1999999999999997" height="18.0" fill="#555" stroke="#222" stroke-width="0.6"/>
<rect x="440.90000000000003" y="265.3" width="2.1999999999999997" height="15.0" fill="#fff" stroke="#333" stroke-width="0.6"/>
<rect x="447.8" y="278.05" width="2.1999999999999997" height="2.25" fill="#0d0d0d" stroke="#0d0d0d" stroke-width="0.6"/>
<rect x="450.6" y="278.8" width="2.1999999999999997" height="1.5" fill="#555" stroke="#222" stroke-width="0.6"/>
<rect x="453.40000000000003" y="279.175" width="2.1999999999999997" height="1.125" fill="#fff" stroke="#333" stroke-width="0.6"/>
<rect x="460.3" y="278.05" width="2.1999999999999997" height="2.25" fill="#0d0d0d" stroke="#0d0d0d" stroke-width="0.6"/>
<rect x="463.1" y="278.05" width="2.1999999999999997" height="2.25" fill="#555" stroke="#222" stroke-width="0.6"/>
<rect x="465.90000000000003" y="278.05" width="2.1999999999999997" height="2.25" fill="#fff" stroke="#333" stroke-width="0.6"/>
<rect x="473.0" y="273.85" width="2.1999999999999997" height="6.449999999999989" fill="#0d0d0d" stroke="#0d0d0d" stroke-width="0.6"/>
<rect x="475.8" y="277.675" width="2.1999999999999997" height="2.625" fill="#555" stroke="#222" stroke-width="0.6"/>
<rect x="478.6" y="279.175" width="2.1999999999999997" height="1.125" fill="#fff" stroke="#333" stroke-width="0.6"/>
<rect x="485.5" y="272.65000000000003" width="2.1999999999999997" height="7.649999999999977" fill="#0d0d0d" stroke="#0d0d0d" stroke-width="0.6"/>
<rect x="488.3" y="276.925" width="2.1999999999999997" height="3.375" fill="#555" stroke="#222" stroke-width="0.6"/>
<rect x="491.1" y="279.175" width="2.1999999999999997" height="1.125" fill="#fff" stroke="#333" stroke-width="0.6"/>
<rect x="497.8" y="278.05" width="2.1999999999999997" height="2.25" fill="#0d0d0d" stroke="#0d0d0d" stroke-width="0.6"/>
<rect x="500.6" y="278.8" width="2.1999999999999997" height="1.5" fill="#555" stroke="#222" stroke-width="0.6"/>
<rect x="503.40000000000003" y="279.55" width="2.1999999999999997" height="0.75" fill="#fff" stroke="#333" stroke-width="0.6"/>
<rect x="509.8" y="279.175" width="2.1999999999999997" height="1.125" fill="#0d0d0d" stroke="#0d0d0d" stroke-width="0.6"/>
<rect x="512.5999999999999" y="279.55" width="2.1999999999999997" height="0.75" fill="#555" stroke="#222" stroke-width="0.6"/>
<rect x="515.4" y="279.55" width="2.1999999999999997" height="0.75" fill="#fff" stroke="#333" stroke-width="0.6"/>
<line x1="329.5" y1="280.5" x2="329.5" y2="282.5" stroke="#111" stroke-width="0.7"/>
<line x1="342" y1="280.5" x2="342" y2="282.5" stroke="#111" stroke-width="0.7"/>
<line x1="354.5" y1="280.5" x2="354.5" y2="282.5" stroke="#111" stroke-width="0.7"/>
<line x1="367" y1="280.5" x2="367" y2="282.5" stroke="#111" stroke-width="0.7"/>
<line x1="380" y1="280.5" x2="380" y2="282.5" stroke="#111" stroke-width="0.7"/>
<line x1="392" y1="280.5" x2="392" y2="282.5" stroke="#111" stroke-width="0.7"/>
<line x1="404.5" y1="280.5" x2="404.5" y2="282.5" stroke="#111" stroke-width="0.7"/>
<line x1="431" y1="280.3" x2="431" y2="282.3" stroke="#111" stroke-width="0.7"/>
<line x1="444" y1="280.3" x2="444" y2="282.3" stroke="#111" stroke-width="0.7"/>
<line x1="456.5" y1="280.3" x2="456.5" y2="282.3" stroke="#111" stroke-width="0.7"/>
<line x1="469" y1="280.3" x2="469" y2="282.3" stroke="#111" stroke-width="0.7"/>
<line x1="481.5" y1="280.3" x2="481.5" y2="282.3" stroke="#111" stroke-width="0.7"/>
<line x1="493.5" y1="280.3" x2="493.5" y2="282.3" stroke="#111" stroke-width="0.7"/>
<line x1="506" y1="280.3" x2="506" y2="282.3" stroke="#111" stroke-width="0.7"/>
<text x="396.7" y="226.2" font-size="4.0" font-weight="bold" fill="#111" textLength="19.3" lengthAdjust="spacingAndGlyphs">E/T ratio</text>
<rect x="401.2" y="229.0" width="3.0000000000000115" height="2.4000000000000172" fill="#0d0d0d" stroke="#0d0d0d" stroke-width="0.8"/>
<text x="406.8" y="231.6" font-size="4.0" font-weight="bold" fill="#111" textLength="8.9" lengthAdjust="spacingAndGlyphs">60:1</text>
<rect x="401.2" y="234.8" width="3.0000000000000115" height="2.399999999999989" fill="#5e5e5e" stroke="#333" stroke-width="0.8"/>
<text x="406.8" y="237.6" font-size="4.0" font-weight="bold" fill="#111" textLength="8.9" lengthAdjust="spacingAndGlyphs">30:1</text>
<rect x="401.2" y="240.70000000000002" width="3.0000000000000115" height="2.499999999999983" fill="#ffffff" stroke="#333" stroke-width="0.8"/>
<text x="406.8" y="243.6" font-size="4.0" font-weight="bold" fill="#111" textLength="8.9" lengthAdjust="spacingAndGlyphs">15:1</text>
<text x="497" y="226" font-size="4.0" font-weight="bold" fill="#111" textLength="18.8" lengthAdjust="spacingAndGlyphs">E/T ratio</text>
<rect x="500.59999999999997" y="228.20000000000002" width="2.6000000000000343" height="2.399999999999989" fill="#0d0d0d" stroke="#0d0d0d" stroke-width="0.8"/>
<text x="506.2" y="231" font-size="4.0" font-weight="bold" fill="#111" textLength="7.8" lengthAdjust="spacingAndGlyphs">50:1</text>
<rect x="500.59999999999997" y="234.4" width="2.6000000000000343" height="2.399999999999989" fill="#5e5e5e" stroke="#333" stroke-width="0.8"/>
<text x="506.2" y="237.2" font-size="4.0" font-weight="bold" fill="#111" textLength="7.8" lengthAdjust="spacingAndGlyphs">25:1</text>
<rect x="500.59999999999997" y="240.4" width="2.6000000000000343" height="2.399999999999989" fill="#ffffff" stroke="#333" stroke-width="0.8"/>
<text x="506.2" y="243.2" font-size="4.0" font-weight="bold" fill="#111" textLength="12.3" lengthAdjust="spacingAndGlyphs">12.5:1</text>
<text x="320" y="287.3" font-size="5" font-weight="bold" fill="#111" textLength="6" lengthAdjust="spacingAndGlyphs">no</text>
<text x="329.5" y="287.3" font-size="5" font-weight="bold" fill="#111" textLength="11.0" lengthAdjust="spacingAndGlyphs">GLC</text>
<text x="343" y="287.3" font-size="5" font-weight="bold" fill="#111" textLength="10" lengthAdjust="spacingAndGlyphs">VLQ</text>
<text x="355.5" y="287.3" font-size="5" font-weight="bold" fill="#111" textLength="10.5" lengthAdjust="spacingAndGlyphs">SLV</text>
<text x="368.5" y="287.3" font-size="5" font-weight="bold" fill="#111" textLength="10.5" lengthAdjust="spacingAndGlyphs">RPP</text>
<text x="381.5" y="287.3" font-size="5" font-weight="bold" fill="#111" textLength="9.5" lengthAdjust="spacingAndGlyphs">LLD</text>
<text x="393.5" y="287.3" font-size="5" font-weight="bold" fill="#111" textLength="10.0" lengthAdjust="spacingAndGlyphs">YLQ</text>
<text x="406.5" y="287.3" font-size="5" font-weight="bold" fill="#111" textLength="10.0" lengthAdjust="spacingAndGlyphs">YLL</text>
<text x="420.5" y="287.3" font-size="5" font-weight="bold" fill="#111" textLength="6.5" lengthAdjust="spacingAndGlyphs">no</text>
<text x="431" y="287.3" font-size="5" font-weight="bold" fill="#111" textLength="11" lengthAdjust="spacingAndGlyphs">GLC</text>
<text x="444.3" y="287.3" font-size="5" font-weight="bold" fill="#111" textLength="11.1" lengthAdjust="spacingAndGlyphs">VLQ</text>
<text x="457.3" y="287.3" font-size="5" font-weight="bold" fill="#111" textLength="10.1" lengthAdjust="spacingAndGlyphs">SLV</text>
<text x="469.3" y="287.3" font-size="5" font-weight="bold" fill="#111" textLength="10.1" lengthAdjust="spacingAndGlyphs">RPP</text>
<text x="481.8" y="287.3" font-size="5" font-weight="bold" fill="#111" textLength="10.6" lengthAdjust="spacingAndGlyphs">LLD</text>
<text x="493.3" y="287.3" font-size="5" font-weight="bold" fill="#111" textLength="11.1" lengthAdjust="spacingAndGlyphs">YLQ</text>
<text x="507.6" y="287.3" font-size="5" font-weight="bold" fill="#111" textLength="10.6" lengthAdjust="spacingAndGlyphs">YLL</text>
<text x="313.4" y="293.5" font-size="5" font-weight="bold" fill="#111" textLength="19" lengthAdjust="spacingAndGlyphs">peptide</text>
<text x="414.8" y="293.5" font-size="5" font-weight="bold" fill="#111" textLength="18.8" lengthAdjust="spacingAndGlyphs">peptide</text>
</svg>
</body></html>
